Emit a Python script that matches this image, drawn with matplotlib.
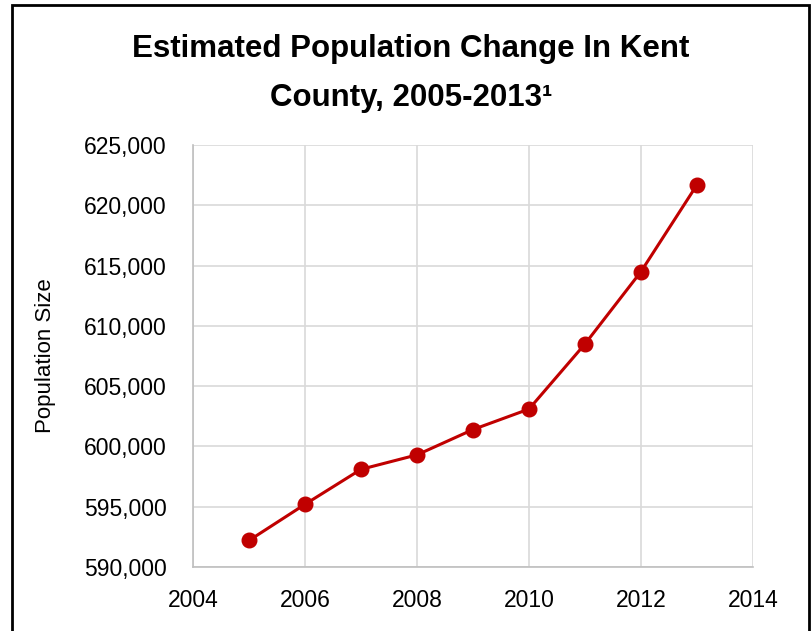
import matplotlib.pyplot as plt
from matplotlib.ticker import FuncFormatter
from matplotlib.patches import Rectangle

# datos
years = [2005, 2006, 2007, 2008, 2009, 2010, 2011, 2012, 2013]
population = [592200, 595200, 598100, 599300, 601400, 603100, 608500, 614500, 621700]

y_ticks = list(range(590000, 625001, 5000))
x_ticks = list(range(2004, 2015, 2))

plt.rcParams['font.family'] = ['Liberation Sans', 'DejaVu Sans']

fig = plt.figure(figsize=(8.11, 6.31), dpi=100)
ax = fig.add_axes([193 / 811, 64 / 631, 560 / 811, 422 / 631])

ax.plot(years, population, color='#C00000', linewidth=2.2, marker='o',
        markersize=10.5, zorder=3)

ax.set_xlim(2004, 2014)
ax.set_ylim(590000, 625000)
ax.set_xticks(x_ticks)
ax.set_yticks(y_ticks)
ax.yaxis.set_major_formatter(FuncFormatter(lambda v, p: f'{int(v):,}'))

ax.grid(True, color='#D9D9D9', linewidth=1.2)
ax.set_axisbelow(True)
for s in ['top', 'right']:
    ax.spines[s].set_visible(False)
for s in ['left', 'bottom']:
    ax.spines[s].set_color('#BFBFBF')
    ax.spines[s].set_linewidth(1.2)

ax.tick_params(axis='both', length=0, labelsize=16.5)
ax.tick_params(axis='y', pad=19)
ax.tick_params(axis='x', pad=16)

ax.set_ylabel('Population Size', fontsize=16, labelpad=20)

fig.text(0.507, 1 - 49 / 631, 'Estimated Population Change In Kent',
         ha='center', va='center', fontsize=22.5, fontweight='bold')
fig.text(0.507, 1 - 98 / 631, 'County, 2005-2013\u00b9',
         ha='center', va='center', fontsize=22.5, fontweight='bold')

# marco negro alrededor de la figura
fig.patches.append(Rectangle((12 / 811, -0.1), 797 / 811, 1.1 - 5 / 631,
                             transform=fig.transFigure, fill=False,
                             edgecolor='black', linewidth=2))

fig.savefig('out.png', dpi=100)
